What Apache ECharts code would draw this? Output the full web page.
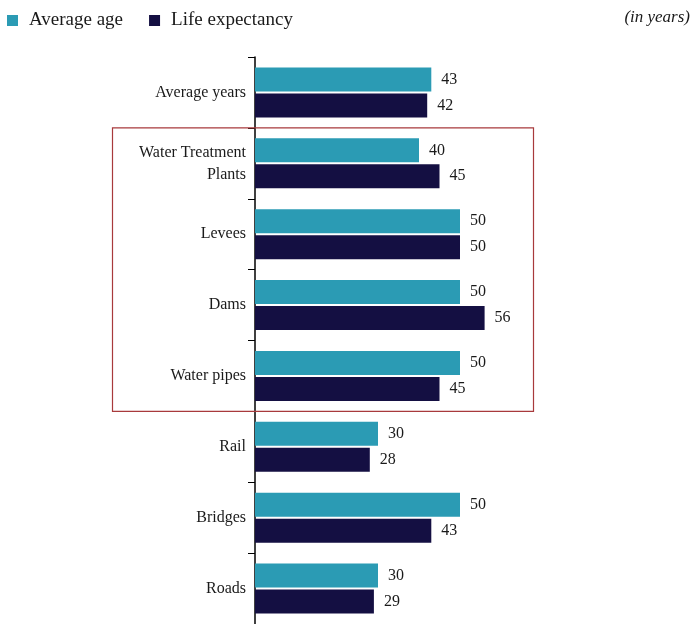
<!DOCTYPE html>
<html><head><meta charset="utf-8">
<script src="https://cdn.jsdelivr.net/npm/echarts@6/dist/echarts.min.js"></script>
<style>html,body{margin:0;padding:0;background:#fff}#c{width:694px;height:624px}</style>
</head><body><div id="c"></div>
<script>
const categories = ['Average years','Water Treatment\nPlants','Levees','Dams','Water pipes','Rail','Bridges','Roads'];
const averageAge = [43,40,50,50,50,30,50,30];
const lifeExpectancy = [42,45,50,56,45,28,43,29];
const seriesNames = ['Average age','Life expectancy'];
const highlighted = ['Water Treatment\nPlants','Water pipes'];

const FONT = 'Liberation Serif';
const chart = echarts.init(document.getElementById('c'), null, {renderer:'canvas'});
const labelCfg = {show:true, position:'right', distance:10, color:'#1a1a1a', fontFamily:FONT, fontSize:16};
const unitText = {type:'text', right:4, top:9, style:{text:'(in years)', font:'italic 17px "Liberation Serif"', fill:'#1a1a1a'}};
chart.setOption({
  animation:false,
  textStyle:{fontFamily:FONT},
  legend:{left:2, top:6, itemWidth:11, itemHeight:11, itemGap:26, icon:'rect',
    textStyle:{fontFamily:FONT, fontSize:19, color:'#1a1a1a', padding:[0,0,0,6]}, data:seriesNames},
  grid:{left:255, top:57, width:410, bottom:0, containLabel:false},
  xAxis:{type:'value', min:0, max:100, show:false},
  yAxis:{type:'category', inverse:true, data:categories,
    axisLine:{show:true, lineStyle:{color:'#000', width:1.5}},
    axisTick:{show:true, length:7, lineStyle:{color:'#000', width:1}},
    axisLabel:{fontFamily:FONT, fontSize:16, color:'#1a1a1a', margin:9, lineHeight:22, align:'right'}},
  series:[
    {name:seriesNames[0], type:'bar', data:averageAge, barWidth:24, barGap:'8%', itemStyle:{color:'#2b9bb4'}, label:labelCfg},
    {name:seriesNames[1], type:'bar', data:lifeExpectancy, barWidth:24, barGap:'8%', itemStyle:{color:'#140f42'}, label:labelCfg}
  ]
});
// annotation box around the water-related categories
const i0 = categories.indexOf(highlighted[0]), i1 = categories.indexOf(highlighted[1]);
const yTop = chart.convertToPixel({yAxisIndex:0}, i0), yBot = chart.convertToPixel({yAxisIndex:0}, i1);
const band = (yBot - yTop) / (i1 - i0);
chart.setOption({graphic:[unitText,
  {type:'rect', z:100, shape:{x:112.5, y:yTop - band/2, width:421, height:yBot - yTop + band},
   style:{fill:'none', stroke:'#a83a3c', lineWidth:1.2}}]});
</script></body></html>
